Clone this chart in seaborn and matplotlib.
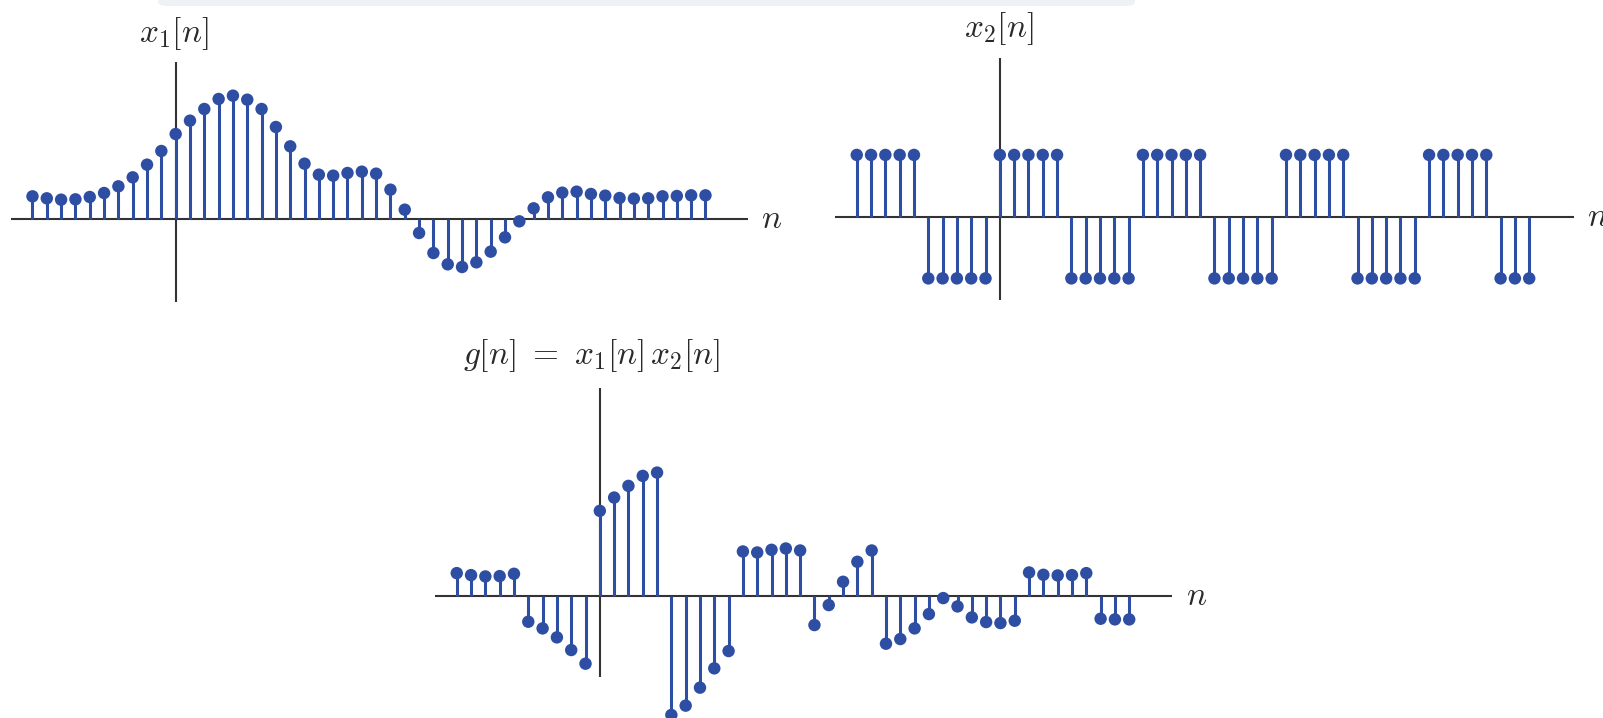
import numpy as np
import pandas as pd
import seaborn as sns
import matplotlib
matplotlib.use("Agg")
import matplotlib.pyplot as plt
from matplotlib.patches import FancyBboxPatch

sns.set_theme(style="white")
plt.rcParams["mathtext.fontset"] = "cm"

# Sample indices shared by all three sequences
n = np.arange(-10, 38)

# Smooth-looking sequence x1[n]
x1 = [0.68, 0.62, 0.58, 0.59, 0.66, 0.78, 0.98, 1.25, 1.63, 2.04,
      2.55, 2.95, 3.30, 3.60, 3.70, 3.58, 3.30, 2.76, 2.18, 1.66,
      1.33, 1.30, 1.38, 1.42, 1.36, 0.88, 0.28, -0.42, -1.02, -1.36,
      -1.44, -1.30, -0.98, -0.55, -0.07, 0.32, 0.65, 0.79, 0.82, 0.75,
      0.70, 0.63, 0.61, 0.62, 0.68, 0.69, 0.71, 0.71]

# Square wave x2[n], period 10
x2 = [1, 1, 1, 1, 1, -1, -1, -1, -1, -1,
      1, 1, 1, 1, 1, -1, -1, -1, -1, -1,
      1, 1, 1, 1, 1, -1, -1, -1, -1, -1,
      1, 1, 1, 1, 1, -1, -1, -1, -1, -1,
      1, 1, 1, 1, 1, -1, -1, -1]

# Product sequence g[n] = x1[n] x2[n]
g = [a * b for a, b in zip(x1, x2)]

STEM = "#2E4EA3"
AXIS = "#333333"
TEXT = "#2a2a2a"
FS = 24

W, H = 1603, 718
fig = plt.figure(figsize=(W / 100, H / 100), dpi=100)
fig.patch.set_facecolor("white")

# light band along the top edge
fig.patches.append(FancyBboxPatch((158 / W, 1 - 6 / H), 977 / W, 12 / H,
                                  boxstyle="round,pad=0,rounding_size=0.006",
                                  transform=fig.transFigure, facecolor="#eef2f6",
                                  edgecolor="none", zorder=0))


def add_axes(x0, y0, x1_, y1_):
    return fig.add_axes([x0 / W, 1 - y1_ / H, (x1_ - x0) / W, (y1_ - y0) / H])


def stem_panel(ax, values, xlim, ylim, title, title_xy, n_offset):
    ax.set_xlim(*xlim)
    ax.set_ylim(*ylim)
    ax.axhline(0, color=AXIS, lw=1.5, zorder=1)
    ax.axvline(0, color=AXIS, lw=1.5, zorder=1)
    df = pd.DataFrame({"n": n, "v": values})
    ax.vlines(df["n"], 0, df["v"], color=STEM, lw=2.2, zorder=2, clip_on=False)
    sns.scatterplot(data=df, x="n", y="v", ax=ax, color=STEM, s=80,
                    edgecolor="none", zorder=3, clip_on=False, legend=False)
    ax.set_axis_off()
    fig.text(title_xy[0] / W, 1 - title_xy[1] / H, title, ha="center",
             va="center", fontsize=FS, color=TEXT)
    ax.annotate("$n$", xy=(1, 0), xycoords=("axes fraction", "data"),
                xytext=(n_offset, 0), textcoords="offset pixels",
                ha="left", va="center", fontsize=FS, color=TEXT)


ax1 = add_axes(11, 62, 748, 302)
stem_panel(ax1, x1, (-11.50, 39.97), (-2.49, 4.71), r"$x_1[n]$", (174, 34), 13)

ax2 = add_axes(835, 58, 1574, 300)
stem_panel(ax2, x2, (-11.52, 40.13), (-1.35, 2.57), r"$x_2[n]$", (999, 29), 13)

ax3 = add_axes(435, 388, 1172, 677)
stem_panel(ax3, g, (-11.52, 39.99), (-2.44, 6.24),
           r"$g[n]\ =\ x_1[n]\,x_2[n]$", (592, 356), 14)

fig.savefig("out.png", dpi=100, facecolor="white")
